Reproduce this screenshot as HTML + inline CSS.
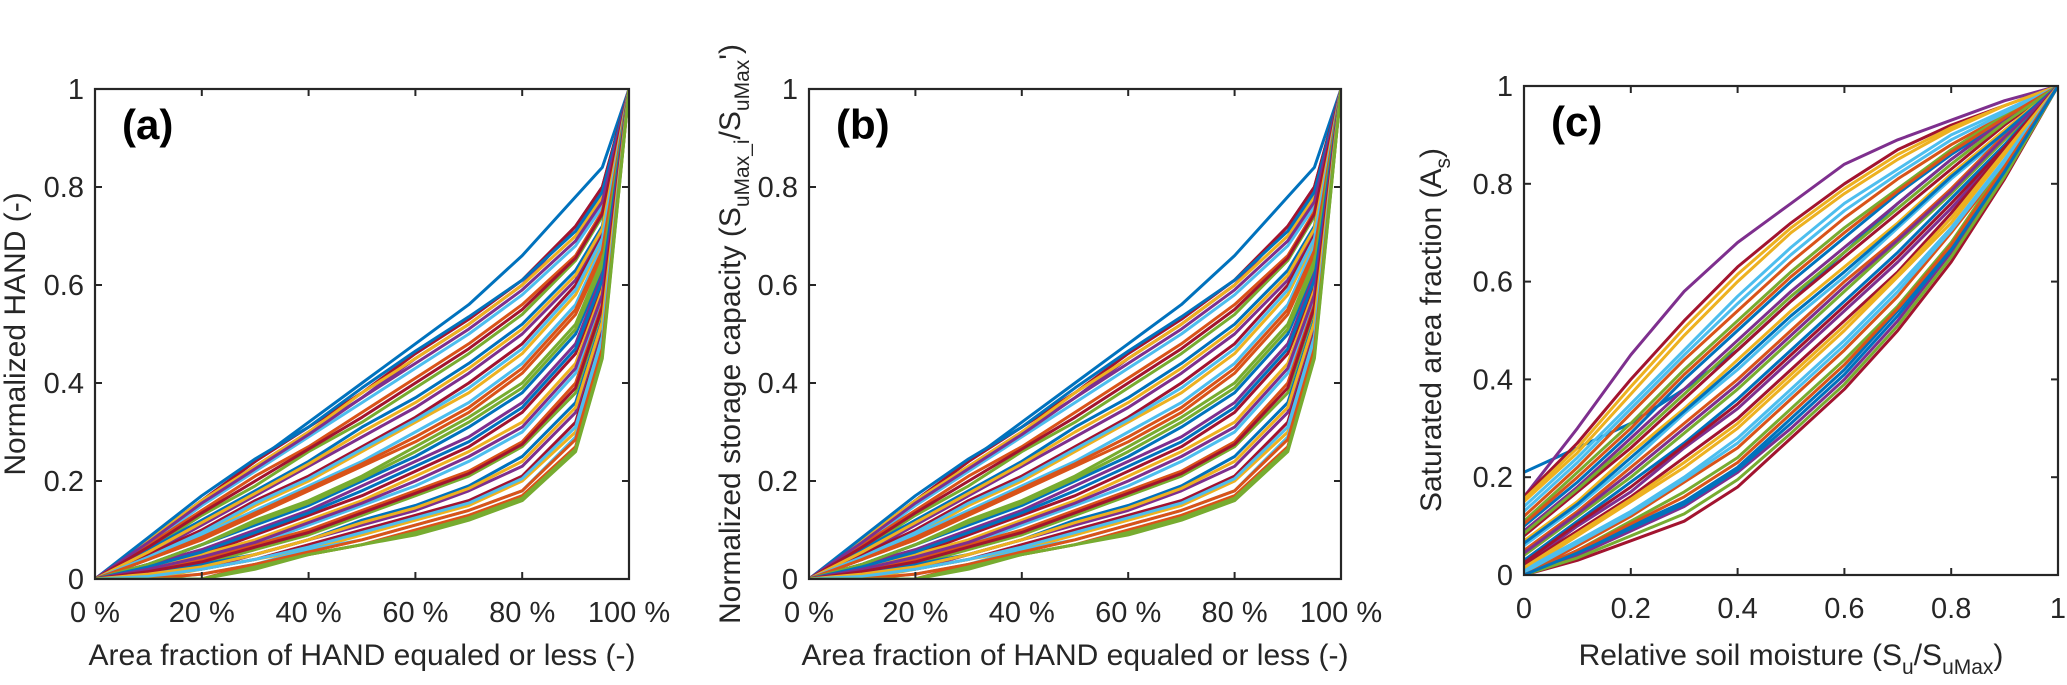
<!DOCTYPE html>
<html><head><meta charset="utf-8"><style>
html,body{margin:0;padding:0;background:#fff;}
svg{display:block;font-family:"Liberation Sans",Arial,sans-serif;}
</style></head><body>
<svg id="fig" width="2067" height="685" viewBox="0 0 2067 685" xmlns="http://www.w3.org/2000/svg"></svg>
<script>
// ---- data ----
const xHand = [0,0.1,0.2,0.3,0.4,0.5,0.6,0.7,0.8,0.9,0.95,1];
const handCurves = [
[0,.08,.16,.24,.32,.40,.48,.56,.66,.78,.84,1],
[0,.08,.16,.23,.30,.37,.45,.52,.60,.72,.80,1],
[0,.08,.16,.24,.31,.38,.46,.53,.61,.72,.80,1],
[0,.08,.16,.23,.30,.38,.45,.52,.60,.70,.78,1],
[0,.07,.15,.22,.29,.36,.43,.50,.58,.68,.76,1],
[0,.07,.14,.21,.27,.34,.41,.48,.56,.66,.75,1],
[0,.06,.13,.19,.26,.32,.39,.46,.54,.65,.74,1],
[0,.06,.12,.18,.24,.31,.37,.44,.52,.63,.72,1],
[0,.05,.11,.17,.23,.29,.35,.42,.50,.61,.71,1],
[0,.05,.10,.16,.21,.27,.33,.40,.48,.60,.70,1],
[0,.04,.09,.15,.20,.26,.32,.38,.46,.58,.69,1],
[0,.04,.09,.14,.19,.24,.30,.36,.44,.56,.68,1],
[0,.04,.08,.13,.18,.23,.28,.34,.42,.54,.66,1],
[0,.03,.07,.12,.16,.21,.27,.33,.40,.52,.65,1],
[0,.03,.07,.11,.15,.20,.25,.31,.38,.50,.63,1],
[0,.03,.06,.10,.14,.19,.24,.29,.36,.48,.62,1],
[0,.02,.05,.09,.13,.17,.22,.27,.34,.46,.60,1],
[0,.02,.05,.08,.12,.16,.21,.26,.32,.44,.59,1],
[0,.02,.04,.07,.11,.15,.19,.24,.30,.42,.57,1],
[0,.02,.04,.07,.10,.14,.18,.22,.28,.40,.56,1],
[0,.01,.03,.06,.09,.13,.17,.21,.27,.38,.55,1],
[0,.01,.03,.05,.08,.12,.15,.19,.25,.36,.53,1],
[0,.01,.02,.05,.08,.11,.14,.18,.23,.34,.52,1],
[0,.01,.02,.04,.07,.10,.13,.16,.21,.32,.50,1],
[0,0,.02,.04,.06,.09,.12,.15,.20,.30,.49,1],
[0,0,.01,.03,.06,.08,.11,.14,.18,.29,.48,1],
[0,0,0,.03,.05,.07,.10,.13,.17,.27,.46,1],
[0,0,0,.02,.05,.07,.09,.12,.16,.26,.45,1],
[0,.085,.17,.245,.31,.39,.465,.535,.61,.71,.79,1],
[0,.075,.155,.225,.295,.37,.44,.51,.59,.69,.77,1],
[0,.065,.135,.20,.265,.33,.40,.47,.55,.655,.745,1],
[0,.055,.115,.175,.235,.30,.36,.43,.51,.62,.715,1],
[0,.045,.095,.155,.205,.265,.325,.39,.47,.59,.695,1],
[0,.04,.085,.135,.185,.235,.29,.35,.43,.55,.67,1],
[0,.03,.07,.115,.155,.205,.26,.32,.39,.51,.64,1],
[0,.025,.055,.095,.135,.18,.23,.28,.35,.47,.61,1],
[0,.02,.045,.075,.115,.155,.20,.25,.31,.43,.58,1],
[0,.015,.035,.065,.095,.135,.175,.215,.275,.39,.555,1],
[0,.01,.025,.05,.08,.115,.145,.185,.24,.35,.525,1],
[0,.005,.02,.04,.065,.095,.125,.155,.205,.31,.495,1],
[0,0,.01,.03,.055,.08,.11,.14,.18,.285,.47,1],
[0,0,0,.025,.05,.07,.095,.125,.165,.265,.455,1]
];
const xSoil = [0,0.1,0.2,0.3,0.4,0.5,0.6,0.7,0.8,0.9,1];
const soilCurves = [
[.21,.26,.31,.38,.46,.56,.66,.76,.85,.93,1],
[.16,.30,.45,.58,.68,.76,.84,.89,.93,.97,1],
[.16,.27,.40,.52,.63,.72,.80,.87,.92,.96,1],
[.15,.25,.37,.49,.60,.70,.78,.85,.91,.96,1],
[.14,.24,.35,.46,.57,.67,.76,.83,.90,.95,1],
[.12,.22,.33,.44,.54,.64,.73,.81,.88,.94,1],
[.11,.21,.31,.42,.52,.62,.71,.79,.87,.94,1],
[.10,.19,.29,.40,.50,.60,.69,.78,.86,.93,1],
[.09,.18,.28,.38,.48,.58,.67,.76,.85,.93,1],
[.08,.17,.26,.36,.46,.56,.65,.74,.83,.92,1],
[.07,.15,.25,.34,.44,.54,.63,.72,.82,.91,1],
[.06,.14,.23,.33,.42,.52,.61,.71,.81,.90,1],
[.05,.13,.22,.31,.40,.50,.60,.69,.79,.90,1],
[.04,.12,.20,.29,.38,.48,.58,.68,.78,.89,1],
[.03,.11,.19,.27,.36,.46,.56,.66,.77,.88,1],
[.02,.10,.17,.26,.34,.44,.54,.64,.75,.87,1],
[.02,.09,.16,.24,.32,.42,.52,.62,.74,.87,1],
[.01,.08,.15,.22,.30,.40,.50,.61,.72,.86,1],
[.01,.07,.13,.20,.28,.38,.48,.59,.71,.85,1],
[0,.06,.12,.19,.26,.36,.46,.57,.70,.84,1],
[0,.05,.11,.17,.24,.34,.44,.55,.68,.84,1],
[0,.05,.10,.15,.22,.32,.42,.54,.67,.83,1],
[0,.04,.09,.14,.21,.30,.40,.52,.66,.82,1],
[0,.03,.07,.11,.18,.28,.38,.50,.64,.81,1],
[.155,.26,.385,.505,.615,.71,.79,.86,.915,.96,1],
[.13,.23,.34,.45,.555,.655,.745,.82,.89,.945,1],
[.105,.20,.30,.41,.51,.61,.70,.785,.865,.935,1],
[.085,.175,.27,.37,.47,.57,.66,.75,.84,.925,1],
[.065,.145,.24,.335,.43,.53,.62,.715,.815,.905,1],
[.045,.125,.21,.30,.39,.49,.59,.685,.785,.895,1],
[.025,.105,.18,.265,.35,.45,.55,.65,.76,.875,1],
[.015,.085,.155,.23,.31,.41,.51,.615,.73,.865,1],
[.005,.065,.125,.195,.27,.37,.47,.58,.705,.845,1],
[0,.05,.105,.16,.23,.33,.43,.545,.675,.835,1],
[0,.035,.08,.125,.195,.29,.39,.51,.65,.815,1],
[0,.045,.095,.145,.215,.31,.41,.53,.665,.825,1]
];
const pctTicks = [0,0.2,0.4,0.6,0.8,1];
const pctLabels = ["0 %","20 %","40 %","60 %","80 %","100 %"];
const numTicks = [0,0.2,0.4,0.6,0.8,1];
const numLabels = ["0","0.2","0.4","0.6","0.8","1"];
const palette = ["#0072BD","#D95319","#EDB120","#7E2F8E","#77AC30","#4DBEEE","#A2142F"];

const NS="http://www.w3.org/2000/svg";
const svg=document.getElementById('fig');
function mk(tag,attrs,parent){const e=document.createElementNS(NS,tag);for(const k in attrs)e.setAttribute(k,attrs[k]);(parent||svg).appendChild(e);return e;}

function panel(id,L,T,W,H,xs,curves,xt,xl,yt,yl,letter){
  const g=mk('g',{});
  
  
  const sx=v=>L+v*W, sy=v=>T+H-v*H;
  const cp=mk('clipPath',{id:'clip'+id},g);
  mk('rect',{x:L,y:T,width:W,height:H},cp);
  const lines=mk('g',{'clip-path':'url(#clip'+id+')'},g);
  
  
  curves.forEach((c,i)=>{
    const d=c.map((v,j)=>(j?'L':'M')+sx(xs[j]).toFixed(1)+' '+sy(v).toFixed(1)).join(' ');
    const p=mk('path',{d:d,fill:'none',stroke:palette[(i*3)%palette.length],'stroke-width':3,'stroke-linejoin':'round'},lines);
    
    
  });
  const fr=mk('rect',{x:L,y:T,width:W,height:H,fill:'none',stroke:'#262626','stroke-width':2.2},g);
  
  
  xt.forEach((v,i)=>{
    const x=sx(v);
    mk('line',{x1:x,y1:T+H,x2:x,y2:T+H-7,stroke:'#262626','stroke-width':2},g);
    mk('line',{x1:x,y1:T,x2:x,y2:T+7,stroke:'#262626','stroke-width':2},g);
    const t=mk('text',{x:x,y:T+H+43,'font-size':29,'text-anchor':'middle',fill:'#262626'},g);
    t.textContent=xl[i];
    
    
  });
  yt.forEach((v,i)=>{
    const y=sy(v);
    mk('line',{x1:L,y1:y,x2:L+7,y2:y,stroke:'#262626','stroke-width':2},g);
    mk('line',{x1:L+W,y1:y,x2:L+W-7,y2:y,stroke:'#262626','stroke-width':2},g);
    const t=mk('text',{x:L-11,y:y+10,'font-size':29,'text-anchor':'end',fill:'#262626'},g);
    t.textContent=yl[i];
    
    
  });
  const lt=mk('text',{x:L+27,y:T+50,'font-size':42,'font-weight':'bold',fill:'#000'},g);
  lt.textContent=letter;
  
  
  return g;
}
panel('a',95,89,534,490,xHand,handCurves,pctTicks,pctLabels,numTicks,numLabels,'(a)');
panel('b',809,89,532,490,xHand,handCurves,pctTicks,pctLabels,numTicks,numLabels,'(b)');
panel('c',1524,86,534,489,xSoil,soilCurves,numTicks,numLabels,numTicks,numLabels,'(c)');
</script>
<script>
(function(){
const NS="http://www.w3.org/2000/svg";const svg=document.getElementById('fig');
function txt(html,attrs,name){const t=document.createElementNS(NS,'text');for(const k in attrs)t.setAttribute(k,attrs[k]);t.innerHTML=html;svg.appendChild(t);

}
const base={'font-size':30,fill:'#262626','text-anchor':'middle'};
txt('Area fraction of HAND equaled or less (-)',Object.assign({x:362,y:665},base),'x-axis-title-a');
txt('Area fraction of HAND equaled or less (-)',Object.assign({x:1075,y:665},base),'x-axis-title-b');
txt('Relative soil moisture (S<tspan font-size="21" dy="9">u</tspan><tspan dy="-9">/S</tspan><tspan font-size="21" dy="9">uMax</tspan><tspan dy="-9">)</tspan>',Object.assign({x:1791,y:665},base),'x-axis-title-c');
txt('Normalized HAND (-)',Object.assign({x:0,y:0,transform:'translate(25,334) rotate(-90)'},base),'y-axis-title-a');
txt('Normalized storage capacity (S<tspan font-size="21" dy="9">uMax_i</tspan><tspan dy="-9">/S</tspan><tspan font-size="21" dy="9">uMax</tspan><tspan dy="-9">\')</tspan>',Object.assign({x:0,y:0,transform:'translate(740,334) rotate(-90)'},base),'y-axis-title-b');
txt('Saturated area fraction (A<tspan font-size="21" dy="9">s</tspan><tspan dy="-9">)</tspan>',Object.assign({x:0,y:0,transform:'translate(1441,330) rotate(-90)'},base),'y-axis-title-c');
})();
</script>
</body></html>
